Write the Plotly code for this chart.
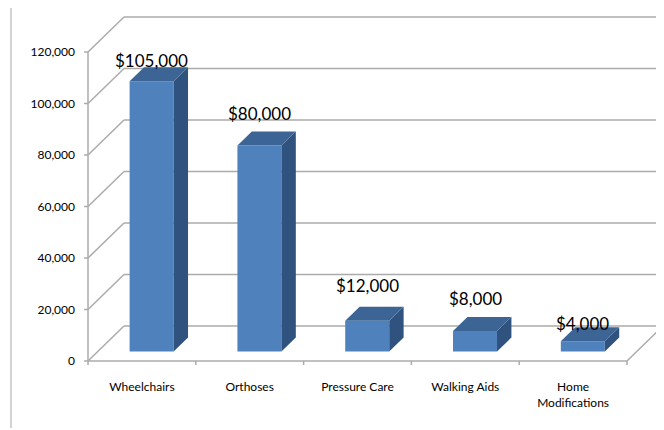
import plotly.graph_objects as go

# ---------------- data ----------------
categories = ["Wheelchairs", "Orthoses", "Pressure Care", "Walking Aids", "Home<br>Modifications"]
costs = [105000, 80000, 12000, 8000, 4000]
y_ticks = [0, 20000, 40000, 60000, 80000, 100000, 120000]
y_tick_labels = ["0", "20,000", "40,000", "60,000", "80,000", "100,000", "120,000"]

# label nudges (pixels, styling only) to mimic the spreadsheet's label placement
label_yshift = [-6, 6, 9, 6, -9]

# ---------------- geometry (pixel based 3-D projection) ----------------
OFF = 8                    # page body margin of the html page
W_FIG, H_FIG = 664 - OFF, 430 - OFF
M_L, M_T, M_B = 78 - OFF, 0, 64
PLOT_W = W_FIG - M_L
PLOT_H = H_FIG - M_T - M_B
PX_CAT = 107.8             # pixels per category
PX_VAL = 2.575 / 1000      # pixels per value unit
FRONT_LEFT_PX = 88 - OFF   # x pixel of the front left corner (figure coords)
ZERO_PX = 361 - OFF        # y pixel of the front floor line (figure coords)

x0 = -0.5 - (FRONT_LEFT_PX - M_L) / PX_CAT
x1 = x0 + PLOT_W / PX_CAT
y0 = -(H_FIG - M_B - ZERO_PX) / PX_VAL
y1 = y0 + PLOT_H / PX_VAL

DX = 36 / PX_CAT           # depth offset in category units
DY = 35 / PX_VAL           # depth offset in value units
F0, FD = 0.27, 0.40        # bar front position / bar depth as fraction of depth
BAR_W = 44 / PX_CAT
TICK = 4

GRID = "#ababab"
FRONT, SIDE, TOP = "#4F81BD", "#30527F", "#3C6596"

n = len(categories)
left_edge = -0.5
right_edge = n - 0.5

shapes = []

def seg(xa, ya, xb, yb, color=GRID, width=1.5):
    shapes.append(dict(type="line", xref="x", yref="y", x0=xa, y0=ya, x1=xb, y1=yb,
                       line=dict(color=color, width=width), layer="below"))

for v in y_ticks:
    seg(left_edge, v, left_edge + DX, v + DY)            # left wall
    seg(left_edge + DX, v + DY, x1, v + DY)              # back wall
    seg(left_edge, v, left_edge - TICK / PX_CAT, v)      # y tick mark
seg(left_edge, 0, left_edge, y_ticks[-1])                # front vertical axis
seg(left_edge, 0, right_edge, 0)                         # front floor line
seg(right_edge, 0, right_edge + DX, DY)                  # right floor edge
for i in range(n + 1):
    b = i - 0.5
    seg(b, 0, b, -TICK / PX_VAL)                         # category boundary ticks

# left chart border line
bx = (11 - OFF - M_L) / PLOT_W
shapes.append(dict(type="line", xref="paper", yref="paper",
                   x0=bx, x1=bx,
                   y0=(PLOT_H + M_T - (428 - OFF)) / PLOT_H, y1=(PLOT_H + M_T) / PLOT_H,
                   line=dict(color="#a6a6a6", width=1)))

# ---------------- bars ----------------
xs = [i + F0 * DX for i in range(n)]
base = F0 * DY

fig = go.Figure()
fig.add_trace(go.Bar(x=xs, y=costs, base=base, width=BAR_W,
                     marker=dict(color=FRONT, line=dict(width=0)), hoverinfo="skip"))

side_x, side_y, top_x, top_y = [], [], [], []
for xc, v in zip(xs, costs):
    xl, xr = xc - BAR_W / 2, xc + BAR_W / 2
    ddx, ddy = FD * DX, FD * DY
    side_x += [xr, xr + ddx, xr + ddx, xr, xr, None]
    side_y += [base, base + ddy, base + v + ddy, base + v, base, None]
    top_x += [xl, xr, xr + ddx, xl + ddx, xl, None]
    top_y += [base + v, base + v, base + v + ddy, base + v + ddy, base + v, None]

fig.add_trace(go.Scatter(x=side_x, y=side_y, mode="lines", fill="toself", fillcolor=SIDE,
                         line=dict(width=0, color=SIDE), hoverinfo="skip"))
fig.add_trace(go.Scatter(x=top_x, y=top_y, mode="lines", fill="toself", fillcolor=TOP,
                         line=dict(width=0, color=TOP), hoverinfo="skip"))

annotations = []
for xc, v, ys in zip(xs, costs, label_yshift):
    annotations.append(dict(x=xc, y=base + v + FD * DY, xref="x", yref="y",
                            text="${:,}".format(v), showarrow=False, yanchor="bottom",
                            yshift=ys, font=dict(family="Lato, Open Sans, sans-serif",
                                                 size=17, color="#000000")))

fig.update_layout(
    width=W_FIG, height=H_FIG,
    margin=dict(l=M_L, r=0, t=M_T, b=M_B, pad=0),
    paper_bgcolor="white", plot_bgcolor="white",
    showlegend=False,
    shapes=shapes,
    annotations=annotations,
    font=dict(family="Lato, Open Sans, sans-serif", size=12, color="#000000"),
    xaxis=dict(range=[x0, x1], tickmode="array", tickvals=list(range(n)), ticktext=categories,
               showgrid=False, zeroline=False, showline=False, ticks="",
               ticklabelstandoff=12, automargin=False, fixedrange=True),
    yaxis=dict(range=[y0, y1], tickmode="array", tickvals=y_ticks, ticktext=y_tick_labels,
               showgrid=False, zeroline=False, showline=False, ticks="",
               ticklabelstandoff=2, automargin=False, fixedrange=True),
)

fig.write_html("out.html")
